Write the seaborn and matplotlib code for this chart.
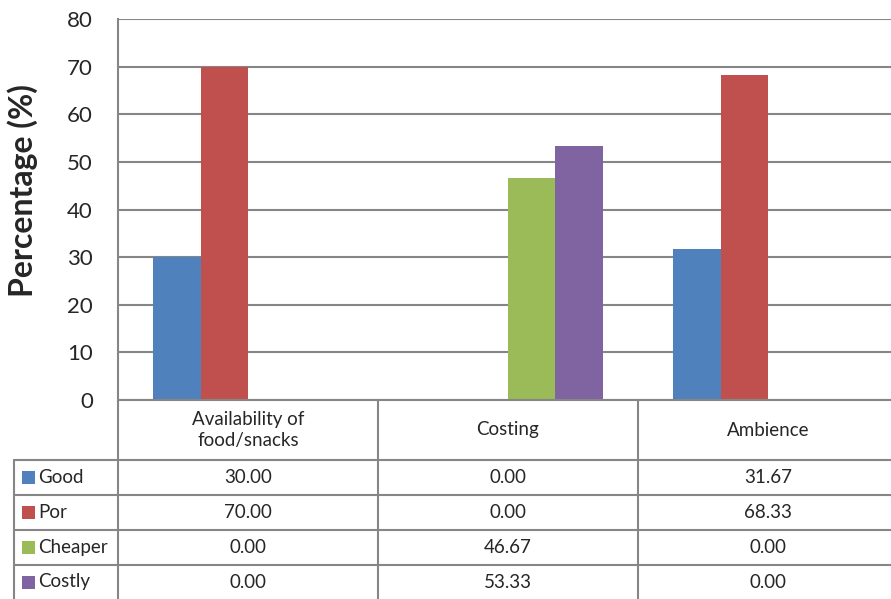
import pandas as pd
import seaborn as sns
import matplotlib.pyplot as plt
from matplotlib.patches import Rectangle
from matplotlib.lines import Line2D

# Data
categories = ["Availability of\nfood/snacks", "Costing", "Ambience"]
series = ["Good", "Por", "Cheaper", "Costly"]
good = [30.00, 0.00, 31.67]
por = [70.00, 0.00, 68.33]
cheaper = [0.00, 46.67, 0.00]
costly = [0.00, 53.33, 0.00]
colors = ["#4F81BD", "#C0504D", "#9BBB59", "#8064A2"]

values = [good, por, cheaper, costly]
rows = []
for name, vals in zip(series, values):
    for cat, v in zip(categories, vals):
        rows.append({"category": cat, "series": name, "value": v})
df = pd.DataFrame(rows)

sns.set_style("white")
plt.rcParams['font.family'] = ['Lato', 'DejaVu Sans']

W, H = 891, 599
fig = plt.figure(figsize=(W / 100, H / 100), dpi=100)
# plot area runs a little past the right edge of the picture
ax = fig.add_axes([118 / W, 1 - 400 / H, (898 - 118) / W, (400 - 19) / H])

sns.barplot(data=df, x="category", y="value", hue="series", order=categories,
            hue_order=series, palette=colors, width=0.73, saturation=1,
            edgecolor="none", linewidth=0, ax=ax, legend=False)

grid_c = "#868686"
ax.set_ylim(0, 80)
ax.set_yticks(range(0, 81, 10))
ax.set_xlim(-0.5, 2.5)
ax.yaxis.grid(True, color=grid_c, linewidth=1.5)
ax.set_axisbelow(True)
for s in ["top", "right", "bottom"]:
    ax.spines[s].set_visible(False)
ax.spines["left"].set_color(grid_c)
ax.spines["left"].set_linewidth(1.5)
ax.tick_params(axis="y", labelsize=16, length=0, pad=18)
ax.set_xticks([])
ax.set_xlabel("")
ax.set_ylabel("Percentage (%)", fontsize=23, fontweight="bold")
ax.yaxis.set_label_coords(-0.102, 0.551)

# Data table drawn below the axes, in figure pixel coordinates
def fx(px):
    return px / W

def fy(py):
    return 1 - py / H

col_edges = [118, 378, 638, 898]
row_edges = [400, 460, 495, 530, 565, 599]

def line(x0, y0, x1, y1):
    fig.add_artist(Line2D([fx(x0), fx(x1)], [fy(y0), fy(y1)], color=grid_c, linewidth=1.5))

# horizontal lines
line(118, 400, 891, 400)
for y in row_edges[1:5]:
    line(14, y, 891, y)
# vertical lines
line(14, 460, 14, 599)
line(118, 400, 118, 599)
for x in col_edges[1:3]:
    line(x, 400, x, 599)

# header text
for i, cat in enumerate(categories):
    cx = (col_edges[i] + col_edges[i + 1]) / 2
    fig.text(fx(cx), fy(430), cat, ha="center", va="center", fontsize=13.5,
             linespacing=1.3)

# rows
for r, (name, vals, c) in enumerate(zip(series, values, colors)):
    cy = (row_edges[r + 1] + row_edges[r + 2]) / 2
    fig.add_artist(Rectangle((fx(22), fy(cy + 6.5)), 13 / W, 13 / H,
                             transform=fig.transFigure, facecolor=c, edgecolor="none"))
    fig.text(fx(38), fy(cy), name, ha="left", va="center", fontsize=13.5)
    for i, v in enumerate(vals):
        cx = (col_edges[i] + col_edges[i + 1]) / 2
        fig.text(fx(cx), fy(cy), f"{v:.2f}", ha="center", va="center", fontsize=13.5)

fig.savefig("out.png", dpi=100)
